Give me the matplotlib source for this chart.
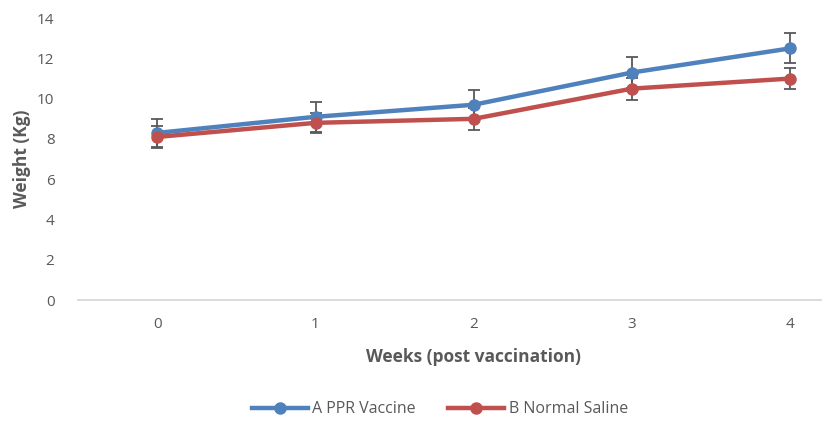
import matplotlib
matplotlib.use("Agg")
from matplotlib import pyplot as plt

weeks = [0, 1, 2, 3, 4]
week_labels = ["0", "1", "2", "3", "4"]

ppr_vaccine = [8.3, 9.1, 9.7, 11.3, 12.5]
ppr_err = [0.7, 0.75, 0.75, 0.75, 0.75]

normal_saline = [8.1, 8.8, 9.0, 10.5, 11.0]
saline_err = [0.55, 0.5, 0.55, 0.55, 0.5]

BLUE = "#4F81BD"
RED = "#C0504D"
GRAY = "#595959"

plt.rcParams["font.family"] = ["Open Sans", "DejaVu Sans"]

fig = plt.figure(figsize=(8.22, 4.22), dpi=100)
ax = fig.add_axes([0.095, 0.289, 0.905, 0.668])

ax.errorbar(weeks, ppr_vaccine, yerr=ppr_err, color=BLUE, lw=3.2, marker="o",
            markersize=8, ecolor=GRAY, elinewidth=1.3, capsize=4, capthick=1.3,
            label="A PPR Vaccine", zorder=3)
ax.errorbar(weeks, normal_saline, yerr=saline_err, color=RED, lw=3.2, marker="o",
            markersize=8, ecolor=GRAY, elinewidth=1.3, capsize=4, capthick=1.3,
            label="B Normal Saline", zorder=3)

ax.set_xlim(-0.5, 4.2)
ax.set_ylim(0, 14)
ax.set_yticks(range(0, 15, 2))
ax.set_xticks(weeks)
ax.set_xticklabels(week_labels)

for s in ["top", "right", "left"]:
    ax.spines[s].set_visible(False)
ax.spines["bottom"].set_color("#D9D9D9")
ax.spines["bottom"].set_linewidth(1.3)
ax.tick_params(length=0, labelsize=11, colors=GRAY)
ax.tick_params(axis="y", pad=17)
ax.tick_params(axis="x", pad=12)

ax.set_xlabel("Weeks (post vaccination)", fontsize=12.5, fontweight="bold", color=GRAY)
ax.set_ylabel("Weight (Kg)", fontsize=12.5, fontweight="bold", color=GRAY)
ax.xaxis.set_label_coords(0.532, -0.17)
ax.yaxis.set_label_coords(-0.063, 0.5)

handles, labels = ax.get_legend_handles_labels()
handles = [h[0] for h in handles]
fig.legend(handles, labels, loc="center", bbox_to_anchor=(0.535, 0.03), ncol=2,
           frameon=False, fontsize=11.5, labelcolor=GRAY, handlelength=3.5,
           columnspacing=2, handletextpad=0.3)

fig.savefig("out.png", dpi=100)
